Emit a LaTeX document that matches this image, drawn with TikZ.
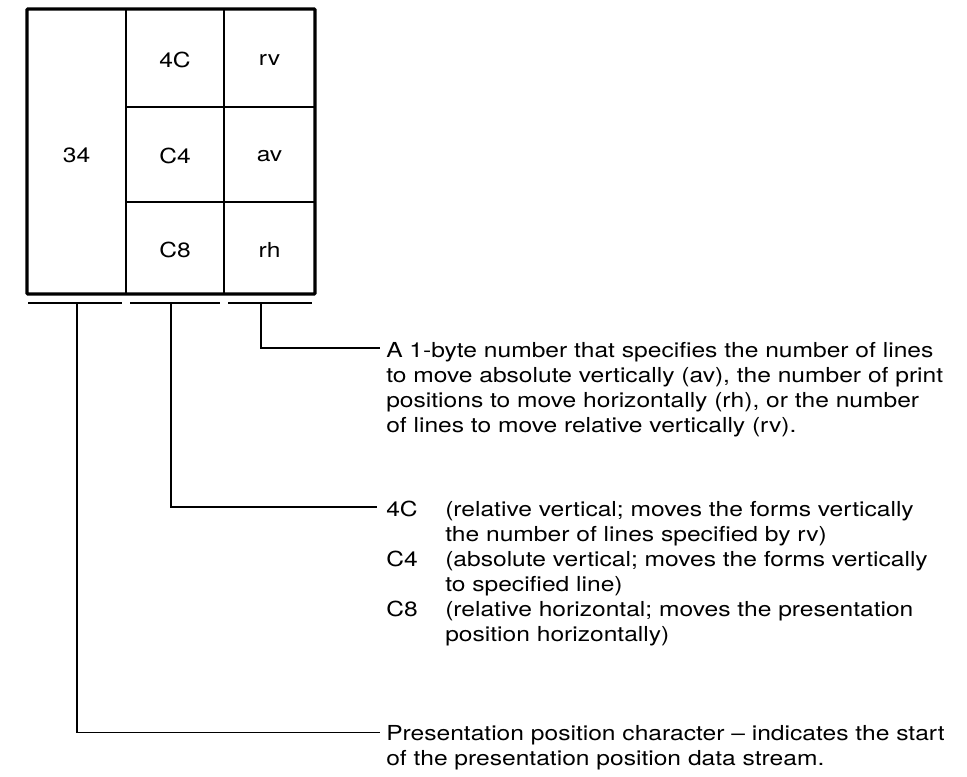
\documentclass[tikz,border=0pt]{standalone}
\usepackage{fontspec}
\setmainfont{TeX Gyre Heros}[FakeStretch=1.19]
\usetikzlibrary{positioning}
\tikzset{
  cellfont/.style={font=\fontsize{15.5}{18.75}\selectfont, inner sep=0pt},
  notefont/.style={font=\fontsize{15.5}{18.75}\selectfont, inner sep=0pt, anchor=base west},
  leader/.style={line width=0.95pt},
}
\begin{document}
\begin{tikzpicture}[x=0.75pt,y=-0.75pt]
            \useasboundingbox (0,0) rectangle (967,776);

            % Drawing grid of the control sequence
            \draw [line width=0.9pt] (126,9) -- (126,294);%
            \draw [line width=0.9pt] (224,9) -- (224,294);%
            \draw [line width=0.9pt] (126,107) -- (315,107);%
            \draw [line width=0.9pt] (126,202) -- (315,202);%
            \draw [line width=2.3pt, rounded corners=0.6pt] (27,9) rectangle (315,294);%

            % Marking cell contents
            \node [cellfont] (c34) at (76.5,155) {34};%
            \node [cellfont] (c4C) at (175,60) {4C};%
            \node [cellfont] (cC4) at (175,156) {C4};%
            \node [cellfont] (cC8) at (175,250) {C8};%
            \node [cellfont] (crv) at (269.5,60) {rv};%
            \node [cellfont] (cav) at (269.5,156) {av};%
            \node [cellfont] (crh) at (269.5,250) {rh};%

            % Drawing brackets below the box
            \draw [line width=1pt] (28,303) -- (122,303);%
            \draw [line width=1pt] (130,303) -- (220,303);%
            \draw [line width=1pt] (228,303) -- (312,303);%
            \coordinate (b34) at (77,303);%
            \coordinate (bcode) at (171,303);%
            \coordinate (bnum) at (261,303);%

            % Marking notes
            \node [notefont] (nnum) at (386,357) {\begin{tabular}[t]{@{}l@{}}%
              A 1-byte number that specifies the number of lines\\
              to move absolute vertically (av), the number of print\\
              positions to move horizontally (rh), or the number\\
              of lines to move relative vertically (rv).\end{tabular}};%
            \node [notefont] (ncode) at (386,516) {\begin{tabular}[t]{@{}p{44.25pt}@{}l@{}}%
              4C & (relative vertical; moves the forms vertically\\
                 & the number of lines specified by rv)\\
              C4 & (absolute vertical; moves the forms vertically\\
                 & to specified line)\\
              C8 & (relative horizontal; moves the presentation\\
                 & position horizontally)\end{tabular}};%
            \node [notefont] (n34) at (386,740) {\begin{tabular}[t]{@{}l@{}}%
              Presentation position character -- indicates the start\\
              of the presentation position data stream.\end{tabular}};%

            % Drawing leaders
            \draw [leader] (bnum) |- ([xshift=-4.5pt,yshift=6.7pt]nnum.base west);%
            \draw [leader] (bcode) |- ([xshift=-6.5pt,yshift=6.7pt]ncode.base west);%
            \draw [leader] (b34) |- ([xshift=-4.5pt,yshift=5.5pt]n34.base west);%
\end{tikzpicture}
\end{document}
